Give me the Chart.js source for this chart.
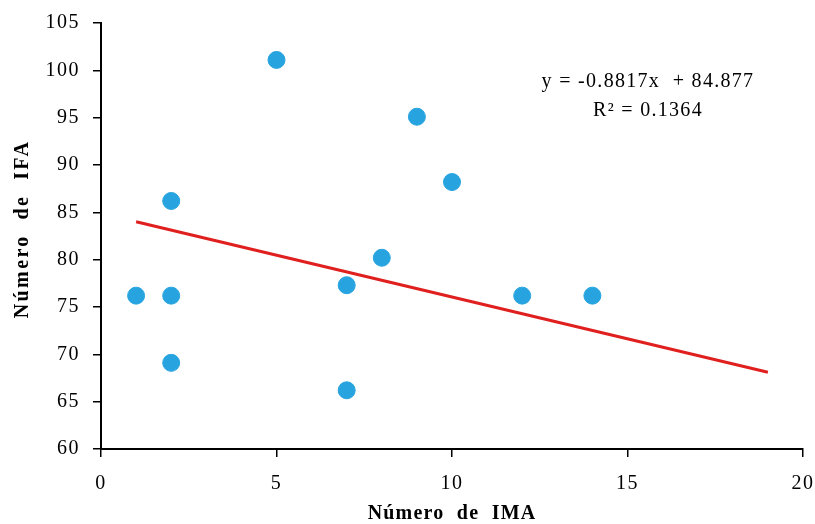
<!DOCTYPE html>
<html lang="es">
<head>
    <meta charset="UTF-8">
    <title>Número de IFA vs Número de IMA</title>
    <script src="https://cdn.jsdelivr.net/npm/chart.js"></script>
    <style>
        body { margin: 0; background: #fff; }
        .wrap { width: 815px; height: 524px; }
    </style>
</head>
<body>
    <div class="wrap"><canvas id="grafico"></canvas></div>
    <script>
        // Datos
        const ima = [1, 2, 2, 2, 5, 7, 7, 8, 9, 10, 12, 14];
        const ifa = [76.2, 76.2, 86.2, 69.1, 101.1, 77.3, 66.2, 80.2, 95.1, 88.2, 76.2, 76.2];
        // Línea de tendencia (extremos)
        const tendX = [1, 19];
        const tendY = [84.0, 68.1];
        const ecuacion = ['y = -0.8817x  + 84.877', 'R² = 0.1364'];
        const tituloX = 'Número  de  IMA';
        const tituloY = 'Número  de  IFA';

        const serif = 'Liberation Serif';

        const puntos = ima.map((x, i) => ({ x: x, y: ifa[i] }));
        const tendencia = tendX.map((x, i) => ({ x: x, y: tendY[i] }));

        // Títulos de ejes y ecuación, dibujados a mano para controlar el espaciado
        const textos = {
            id: 'textos',
            beforeDraw(chart) {
                chart.ctx.letterSpacing = '1.5px';
            },
            afterDraw(chart) {
                const c = chart.ctx;
                const a = chart.chartArea;
                c.save();
                c.fillStyle = '#000';
                c.textAlign = 'center';
                c.textBaseline = 'middle';

                c.font = '20px "' + serif + '"';
                c.letterSpacing = '1.3px';
                c.fillText(ecuacion[0], 648, 82);
                c.fillText(ecuacion[1], 648, 111);

                c.font = 'bold 20px "' + serif + '"';
                c.letterSpacing = '1.2px';
                c.fillText(tituloX, (a.left + a.right) / 2, 514);

                c.translate(23, 229);
                c.rotate(-Math.PI / 2);
                c.letterSpacing = '2.4px';
                c.fillText(tituloY, 0, 0);
                c.restore();
            }
        };

        new Chart(document.getElementById('grafico'), {
            type: 'scatter',
            data: {
                datasets: [{
                    type: 'line',
                    data: tendencia,
                    borderColor: '#e0201f',
                    borderWidth: 3,
                    pointRadius: 0,
                    fill: false
                }, {
                    data: puntos,
                    backgroundColor: '#27a4df',
                    borderColor: '#27a4df',
                    pointRadius: 8.5,
                    pointHoverRadius: 8.5
                }]
            },
            options: {
                responsive: true,
                maintainAspectRatio: false,
                animation: false,
                layout: { padding: { top: 23, right: 12, left: 0, bottom: 0 } },
                plugins: {
                    legend: { display: false },
                    tooltip: { enabled: false }
                },
                scales: {
                    x: {
                        type: 'linear',
                        min: 0,
                        max: 20,
                        afterFit: s => { s.height = 75; s.paddingLeft = 0; s.paddingRight = 0; },
                        ticks: {
                            stepSize: 5,
                            color: '#000',
                            padding: 15,
                            font: { family: serif, size: 20 }
                        },
                        grid: { drawOnChartArea: false, drawTicks: true, tickLength: 8, color: '#000', lineWidth: 1.5 },
                        border: { display: true, color: '#000', width: 2 }
                    },
                    y: {
                        min: 60,
                        max: 105,
                        afterFit: s => { s.width = 101; s.paddingTop = 0; s.paddingBottom = 0; },
                        ticks: {
                            stepSize: 5,
                            color: '#000',
                            padding: 13,
                            font: { family: serif, size: 20 }
                        },
                        grid: { drawOnChartArea: false, drawTicks: true, tickLength: 8, color: '#000', lineWidth: 1.5 },
                        border: { display: true, color: '#000', width: 2 }
                    }
                }
            },
            plugins: [textos]
        });
    </script>
</body>
</html>
